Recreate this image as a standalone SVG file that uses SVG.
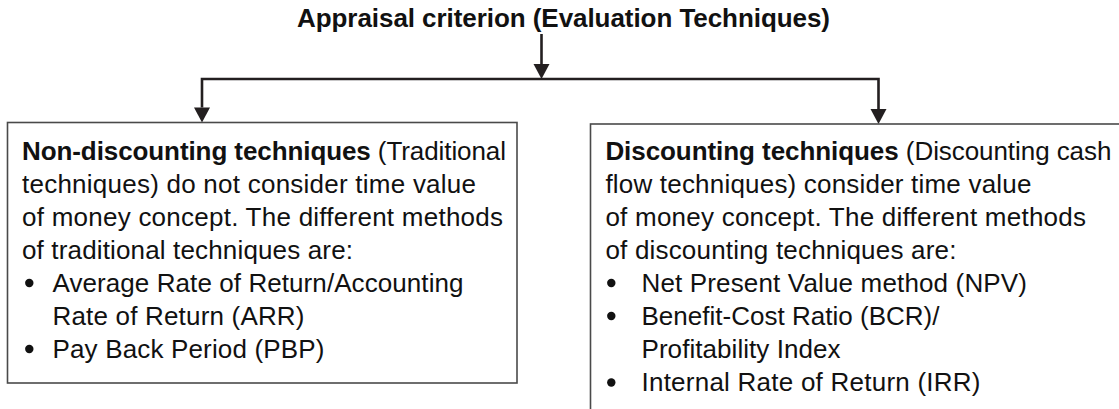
<svg xmlns="http://www.w3.org/2000/svg" width="1119" height="409" viewBox="0 0 1119 409">
<defs>
<style>
text{font-family:"Liberation Sans",Arial,Helvetica,sans-serif;font-size:26px;fill:#111;}
.b{font-weight:bold;}
.box{fill:#fff;stroke:#4a4a4a;stroke-width:1.6;}
.con{fill:none;stroke:#231f20;stroke-width:2.6;}
.dot{fill:#111;}
</style>
</defs>
<rect width="1119" height="409" fill="#fff"/>
<g id="title">
<text class="b" x="297" y="27" textLength="533" lengthAdjust="spacing">Appraisal criterion (Evaluation Techniques)</text>
</g>
<g id="connectors">
<line class="con" x1="541.5" y1="34" x2="541.5" y2="64"/>
<path d="M533.5,64 L549.5,64 L541.5,79 Z" fill="#231f20"/>
<polyline class="con" points="202,107.5 202,79 878.5,79 878.5,109"/>
<path d="M194,107.5 L210,107.5 L202,122.5 Z" fill="#231f20"/>
<path d="M870.5,109 L886.5,109 L878.5,124 Z" fill="#231f20"/>
</g>
<g id="non-discounting">
<rect class="box" x="7.5" y="122.5" width="509.5" height="260.5"/>
<text x="22" y="159.5" textLength="484" lengthAdjust="spacing"><tspan class="b">Non-discounting techniques</tspan> (Traditional</text>
<text x="22" y="192.5" textLength="454" lengthAdjust="spacing">techniques) do not consider time value</text>
<text x="22" y="225.5" textLength="481" lengthAdjust="spacing">of money concept. The different methods</text>
<text x="22" y="258.5" textLength="331" lengthAdjust="spacing">of traditional techniques are:</text>
<circle class="dot" cx="29.3" cy="283" r="4.2"/>
<text x="52.5" y="291.5" textLength="411" lengthAdjust="spacing">Average Rate of Return/Accounting</text>
<text x="52.5" y="324.5" textLength="252" lengthAdjust="spacing">Rate of Return (ARR)</text>
<circle class="dot" cx="29.3" cy="349" r="4.2"/>
<text x="52.5" y="357.5" textLength="272" lengthAdjust="spacing">Pay Back Period (PBP)</text>
</g>
<g id="discounting">
<rect class="box" x="590.5" y="124" width="560" height="300"/>
<text x="605.4" y="159.5" textLength="506" lengthAdjust="spacing"><tspan class="b">Discounting techniques</tspan> (Discounting cash</text>
<text x="605.4" y="192.5" textLength="426" lengthAdjust="spacing">flow techniques) consider time value</text>
<text x="605.4" y="225.5" textLength="480.6" lengthAdjust="spacing">of money concept. The different methods</text>
<text x="605.4" y="258.5" textLength="351" lengthAdjust="spacing">of discounting techniques are:</text>
<circle class="dot" cx="611.3" cy="283" r="4.2"/>
<text x="641.5" y="291.5" textLength="385.5" lengthAdjust="spacing">Net Present Value method (NPV)</text>
<circle class="dot" cx="611.3" cy="316" r="4.2"/>
<text x="641.5" y="324.5" textLength="298" lengthAdjust="spacing">Benefit-Cost Ratio (BCR)/</text>
<text x="641.5" y="357.5" textLength="199" lengthAdjust="spacing">Profitability Index</text>
<circle class="dot" cx="611.3" cy="382.5" r="4.2"/>
<text x="641.5" y="391" textLength="339" lengthAdjust="spacing">Internal Rate of Return (IRR)</text>
</g>
</svg>
